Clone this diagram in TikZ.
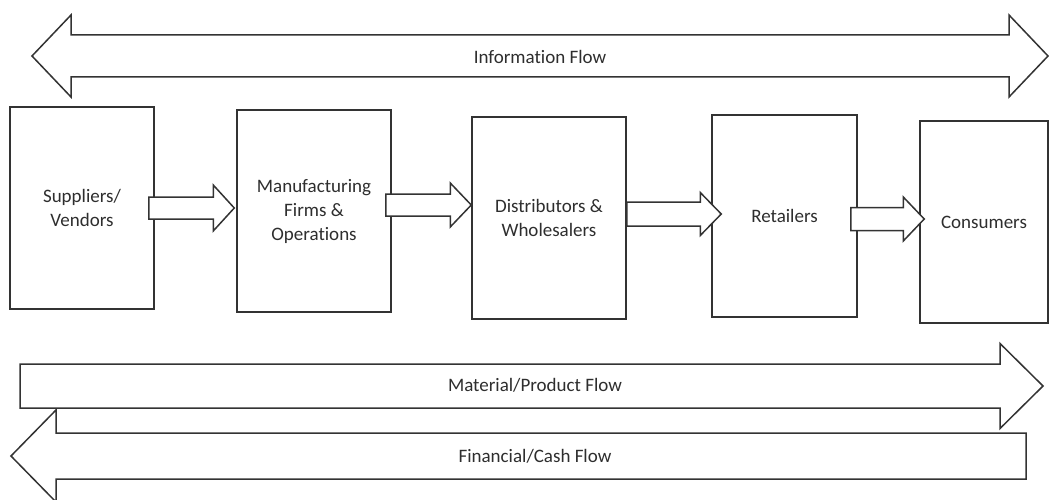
\documentclass[tikz,border=0pt]{standalone}
\usepackage{fontspec}
\setmainfont{Carlito}[Ligatures=NoCommon]
\usetikzlibrary{calc}
\definecolor{ln}{HTML}{333333}
\definecolor{tx}{HTML}{2E2E2E}
\newcommand\blockarr[8]{%
  \draw[arr] let \p1=($(#1.east)+(#3,0)$), \p2=($(#2.west)+(#4,0)$) in
    (\x1,{(#5+#6)*1pt}) -- ({\x2-#8*1pt},{(#5+#6)*1pt}) -- ({\x2-#8*1pt},{(#5+#7)*1pt})
    -- (\x2,{#5*1pt}) -- ({\x2-#8*1pt},{(#5-#7)*1pt}) -- ({\x2-#8*1pt},{(#5-#6)*1pt})
    -- (\x1,{(#5-#6)*1pt}) -- cycle;}
\begin{document}
\begin{tikzpicture}[x=1pt,y=1pt,
  lbl/.style={font=\fontsize{19}{24}\selectfont, text=tx, align=center, inner sep=0pt},
  box/.style={lbl, draw=ln, line width=1.5pt, fill=white, minimum height=202pt},
  arr/.style={draw=ln, line width=1.5pt, fill=white, line join=miter}]
\useasboundingbox (0,0) rectangle (1049,499);
\fill[white] (0,0) rectangle (1049,499);

% Information flow (double arrow)
\draw[arr] (32,443) -- (71,484) -- (71,464) -- (1009,464) -- (1009,484) -- (1048,443)
  -- (1009,402) -- (1009,422) -- (71,422) -- (71,402) -- cycle;
\node[lbl] (info) at (540,442) {Information Flow};

% Boxes
\node[box, minimum width=144pt] (S) at (82,291) {Suppliers/\\Vendors};
\node[box, minimum width=154pt] (M) at (314,288) {Manufacturing\\Firms \&\\Operations};
\node[box, minimum width=154pt] (D) at (549,281) {Distributors \&\\Wholesalers};
\node[box, minimum width=145pt] (R) at (784.5,283) {Retailers};
\node[box, minimum width=128pt] (C) at (984,277) {Consumers};

% Block arrows between boxes
\blockarr{S}{M}{-6}{-2}{291}{11}{23}{21}
\blockarr{M}{D}{-6}{0}{294}{11}{22}{21}
\blockarr{D}{R}{0}{10}{285}{12}{21.5}{21}
\blockarr{R}{C}{-7}{5}{280}{11.5}{22}{21}

% Financial / cash flow (left)
\draw[arr] (11,43) -- (56,89) -- (56,66) -- (1026,66) -- (1026,20) -- (56,20) -- (56,-3) -- cycle;
\node[lbl] (fin) at (535,43) {Financial/Cash Flow};

% Material / product flow (right)
\draw[arr] (20,135) -- (1000,135) -- (1000,155.5) -- (1043,113) -- (1000,70.5) -- (1000,91)
  -- (20,91) -- cycle;
\node[lbl] (mat) at (535,114) {Material/Product Flow};
\end{tikzpicture}
\end{document}
